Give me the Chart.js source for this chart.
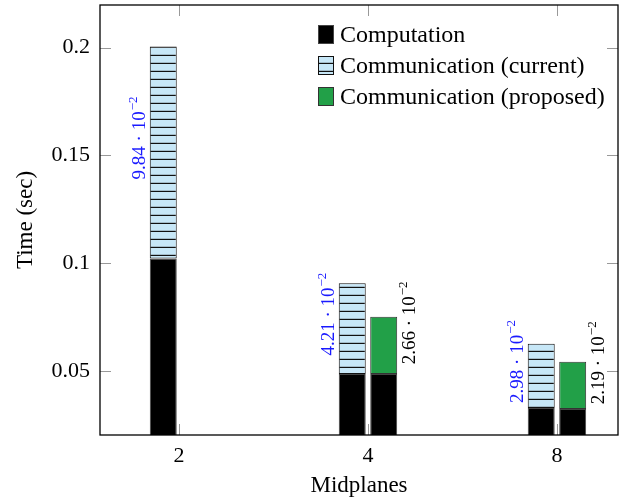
<!DOCTYPE html>
<html>
<head>
<meta charset="utf-8">
<script src="https://cdn.jsdelivr.net/npm/chart.js@4.4.0/dist/chart.umd.min.js"></script>
<style>
html, body { margin: 0; padding: 0; background: #fff; }
#wrap { width: 623px; height: 500px; }
</style>
</head>
<body>
<div id="wrap"><canvas id="timeChart" width="623" height="500"></canvas></div>
<script>
var midplanes = ['2', '4', '8'];
var compCurrent = [0.1022, 0.0486, 0.0328];
var commCurrent = [0.0984, 0.0421, 0.0298];
var compProposed = [null, 0.0486, 0.0324];
var commProposed = [null, 0.0266, 0.0219];
var yTicks = [0.05, 0.1, 0.15, 0.2];

var serif = '"Liberation Serif", "Times New Roman", serif';

// light blue with horizontal black lines
function makeHatch() {
    var c = document.createElement('canvas');
    c.width = 8;
    c.height = 8;
    var g = c.getContext('2d');
    g.fillStyle = '#c7e7f7';
    g.fillRect(0, 0, 8, 8);
    g.fillStyle = '#111';
    g.fillRect(0, 6.8, 8, 1.2);
    return g.createPattern(c, 'repeat');
}
var hatch = makeHatch();

function toPoints(arr) {
    return arr.map(function (v, i) { return { x: i, y: v }; });
}

function noPadding(scale) {
    scale.paddingTop = 0;
    scale.paddingBottom = 0;
    scale.paddingLeft = 0;
    scale.paddingRight = 0;
}

var framePlugin = {
    id: 'frame',
    beforeDatasetsDraw: function (chart) {
        var ctx = chart.ctx, a = chart.chartArea;
        var xs = chart.scales.x, ys = chart.scales.y;
        ctx.save();
        ctx.strokeStyle = '#999';
        ctx.lineWidth = 1;
        ctx.beginPath();
        xs.ticks.forEach(function (t) {
            var px = Math.round(xs.getPixelForValue(t.value)) + 0.5;
            ctx.moveTo(px, a.bottom); ctx.lineTo(px, a.bottom - 11);
            ctx.moveTo(px, a.top); ctx.lineTo(px, a.top + 11);
        });
        ys.ticks.forEach(function (t) {
            var py = Math.round(ys.getPixelForValue(t.value)) + 0.5;
            ctx.moveTo(a.left, py); ctx.lineTo(a.left + 11, py);
            ctx.moveTo(a.right, py); ctx.lineTo(a.right - 11, py);
        });
        ctx.stroke();
        ctx.restore();
    },
    afterDatasetsDraw: function (chart) {
        var ctx = chart.ctx, a = chart.chartArea;
        ctx.save();
        ctx.strokeStyle = '#000';
        ctx.lineWidth = 1.3;
        ctx.strokeRect(a.left, a.top, a.right - a.left, a.bottom - a.top);
        ctx.restore();
    }
};

// rotated value labels next to the communication bars
var valueLabels = {
    id: 'valueLabels',
    afterDatasetsDraw: function (chart) {
        var ctx = chart.ctx;
        chart.data.datasets.forEach(function (ds, di) {
            if (!ds.valueSide) return;
            var meta = chart.getDatasetMeta(di);
            meta.data.forEach(function (bar, i) {
                var v = ds.data[i].y;
                if (v === null) return;
                var main = (v * 100).toFixed(2) + ' \u00b7 10';
                var sup = '\u22122';
                ctx.save();
                ctx.font = '19px ' + serif;
                var wMain = ctx.measureText(main).width;
                ctx.font = '13px ' + serif;
                var wSup = ctx.measureText(sup).width;
                var total = wMain + wSup;
                var mid = (bar.y + bar.base) / 2;
                var ax, cy;
                if (ds.valueSide === 'left') {
                    ax = bar.x - bar.width / 2 - 5;
                    cy = mid - 14;
                } else {
                    ax = bar.x + bar.width / 2 + 18;
                    cy = mid - 22;
                }
                ctx.translate(ax, cy);
                ctx.rotate(-Math.PI / 2);
                ctx.fillStyle = ds.valueColor;
                ctx.textBaseline = 'alphabetic';
                ctx.textAlign = 'left';
                ctx.font = '19px ' + serif;
                ctx.fillText(main, -total / 2, 0);
                ctx.font = '13px ' + serif;
                ctx.fillText(sup, -total / 2 + wMain + 1, -8);
                ctx.restore();
            });
        });
    }
};

var legendBox = {
    id: 'legendBox',
    afterDraw: function (chart) {
        var ctx = chart.ctx, a = chart.chartArea;
        var x = a.right - 300, y = a.top + 20;
        ctx.save();
        ctx.font = '24px ' + serif;
        ctx.textBaseline = 'alphabetic';
        chart.data.datasets.forEach(function (ds) {
            if (!ds.inLegend) return;
            ctx.fillStyle = ds.backgroundColor;
            ctx.fillRect(x, y, 16, 19);
            ctx.strokeStyle = ds.borderColor;
            ctx.lineWidth = 1;
            ctx.strokeRect(x + 0.5, y + 0.5, 15, 18);
            ctx.fillStyle = '#000';
            ctx.fillText(ds.label, x + 22, y + 17);
            y += 31;
        });
        ctx.restore();
    }
};

var chart = new Chart(document.getElementById('timeChart'), {
    type: 'bar',
    data: {
        datasets: [{
            label: 'Computation',
            data: toPoints(compCurrent),
            stack: 'current',
            backgroundColor: '#000',
            borderColor: '#444',
            inLegend: true
        }, {
            label: 'Communication (current)',
            data: toPoints(commCurrent),
            stack: 'current',
            backgroundColor: hatch,
            borderColor: '#111',
            inLegend: true,
            valueSide: 'left',
            valueColor: '#1a1aff'
        }, {
            label: 'Computation',
            data: toPoints(compProposed),
            stack: 'proposed',
            backgroundColor: '#000',
            borderColor: '#444'
        }, {
            label: 'Communication (proposed)',
            data: toPoints(commProposed),
            stack: 'proposed',
            backgroundColor: '#22a048',
            borderColor: '#333',
            inLegend: true,
            valueSide: 'right',
            valueColor: '#000'
        }]
    },
    options: {
        responsive: false,
        animation: false,
        layout: { autoPadding: false, padding: { left: 0, right: 5, top: 5, bottom: 0 } },
        datasets: {
            bar: {
                borderWidth: 1,
                borderSkipped: false,
                categoryPercentage: 0.333,
                barPercentage: 0.857
            }
        },
        plugins: {
            legend: { display: false },
            tooltip: { enabled: false }
        },
        scales: {
            x: {
                type: 'linear',
                offset: false,
                min: -0.418,
                max: 2.323,
                afterBuildTicks: function (scale) {
                    scale.ticks = midplanes.map(function (m, i) { return { value: i }; });
                },
                afterFit: function (scale) { scale.height = 65; noPadding(scale); },
                grid: { display: false, drawTicks: false },
                border: { display: false },
                ticks: {
                    padding: 8,
                    color: '#000',
                    font: { family: serif, size: 22 },
                    callback: function (v) { return midplanes[v]; }
                },
                title: {
                    display: true,
                    text: 'Midplanes',
                    color: '#000',
                    padding: 0,
                    font: { family: serif, size: 23 }
                }
            },
            y: {
                stacked: true,
                min: 0.0203,
                max: 0.2198,
                afterBuildTicks: function (scale) {
                    scale.ticks = yTicks.map(function (v) { return { value: v }; });
                },
                afterFit: function (scale) { scale.width = 100; noPadding(scale); },
                grid: { display: false, drawTicks: false },
                border: { display: false },
                ticks: {
                    padding: 10,
                    color: '#000',
                    font: { family: serif, size: 22 },
                    callback: function (v) { return String(v); }
                },
                title: {
                    display: true,
                    text: 'Time (sec)',
                    color: '#000',
                    padding: { top: 12, bottom: 0 },
                    font: { family: serif, size: 23 }
                }
            }
        }
    },
    plugins: [framePlugin, valueLabels, legendBox]
});
</script>
</body>
</html>
